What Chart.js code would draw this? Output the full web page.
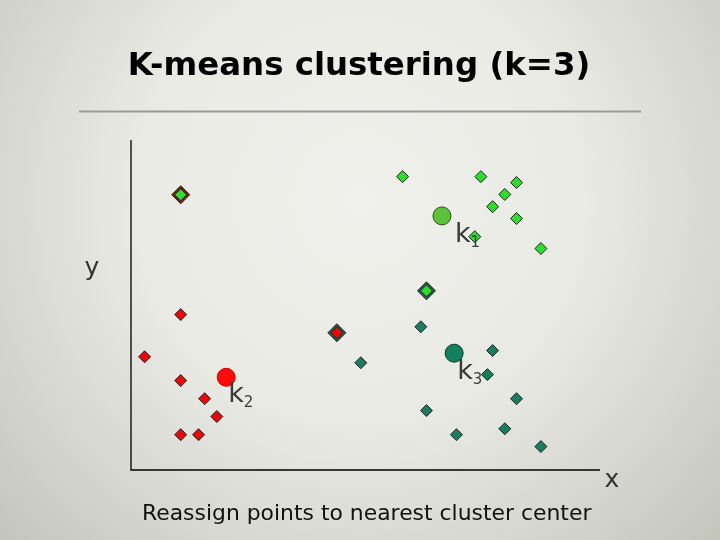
<!DOCTYPE html>
<html>
<head>
<meta charset="utf-8">
<script src="https://cdn.jsdelivr.net/npm/chart.js@4"></script>
<style>
  html, body { margin: 0; padding: 0; }
  body {
    width: 720px; height: 540px; overflow: hidden;
    background: radial-gradient(circle at 50% 37%, #f0f0ec 0px, #eaeae5 225px, #c3c5bb 500px);
  }
  #wrap { width: 720px; height: 540px; }
</style>
</head>
<body>
<div id="wrap"><canvas id="kmeans" width="720" height="540"></canvas></div>
<script>
// points in axis units (x: 0..100, y: 0..100)
const greenPoints = [
  { x: 57.9, y: 88.9 }, { x: 74.6, y: 88.9 }, { x: 82.2, y: 87.1 }, { x: 79.7, y: 83.5 },
  { x: 77.1, y: 79.8 }, { x: 82.2, y: 76.2 }, { x: 73.3, y: 70.7 }, { x: 87.4, y: 67.1 }
];
const redPoints = [
  { x: 10.6, y: 47.1 }, { x: 2.9, y: 34.3 }, { x: 10.6, y: 27.1 }, { x: 15.7, y: 21.6 },
  { x: 18.3, y: 16.2 }, { x: 10.6, y: 10.7 }, { x: 14.4, y: 10.7 }
];
const tealPoints = [
  { x: 61.8, y: 43.4 }, { x: 49.0, y: 32.5 }, { x: 77.1, y: 36.2 }, { x: 76.0, y: 28.9 },
  { x: 82.2, y: 21.6 }, { x: 63.0, y: 18.0 }, { x: 69.4, y: 10.7 }, { x: 79.7, y: 12.5 },
  { x: 87.4, y: 7.1 }
];
// points that change cluster: old colour inside, new cluster as frame
const greenToRed = [{ x: 10.6, y: 83.4 }];
const greenToTeal = [{ x: 63.0, y: 54.3 }];
const redToTeal = [{ x: 43.9, y: 41.6 }];

const centroidNames = ["1", "2", "3"];
const centroids = [{ x: 66.3, y: 77.0 }, { x: 20.3, y: 28.1 }, { x: 68.9, y: 35.4 }];

const GREEN = "#2ade2a";
const RED = "#e80808";
const TEAL = "#1a7c60";

const labelOffsets = [[13, 26], [2, 25], [3, 26]];

function diamonds(data, color, radius, border, order) {
  return {
    data: data,
    pointStyle: "rectRot",
    pointRadius: radius,
    backgroundColor: color,
    borderColor: border,
    borderWidth: 1,
    order: order,
    clip: false
  };
}

const slideText = {
  id: "slideText",
  afterDraw(chart) {
    const ctx = chart.ctx;
    const xs = chart.scales.x;
    const ys = chart.scales.y;
    ctx.save();

    // title and rule
    ctx.fillStyle = "#000";
    ctx.font = "bold 32.4px 'DejaVu Sans'";
    ctx.textAlign = "center";
    ctx.textBaseline = "alphabetic";
    ctx.fillText("K-means clustering (k=3)", 359, 75);
    ctx.strokeStyle = "#9a9a9a";
    ctx.lineWidth = 2;
    ctx.beginPath();
    ctx.moveTo(79, 111.5);
    ctx.lineTo(641, 111.5);
    ctx.stroke();

    // axes
    const x0 = xs.getPixelForValue(0), x1 = xs.getPixelForValue(100);
    const y0 = ys.getPixelForValue(0), y1 = ys.getPixelForValue(100);
    ctx.strokeStyle = "#000";
    ctx.lineWidth = 1.3;
    ctx.beginPath();
    ctx.moveTo(x0, y1);
    ctx.lineTo(x0, y0);
    ctx.lineTo(x1, y0);
    ctx.stroke();

    ctx.fillStyle = "#333";
    ctx.font = "25px 'DejaVu Sans'";
    ctx.fillText("y", x0 - 39, 275);
    ctx.fillText("x", x1 + 12, 487);

    // centroid labels
    ctx.textAlign = "left";
    ctx.fillStyle = "#3a3a3a";
    centroids.forEach((c, i) => {
      const px = xs.getPixelForValue(c.x) + labelOffsets[i][0];
      const py = ys.getPixelForValue(c.y) + labelOffsets[i][1];
      ctx.font = "27px 'DejaVu Sans'";
      ctx.fillText("k", px, py);
      const w = ctx.measureText("k").width;
      ctx.font = "15px 'DejaVu Sans'";
      ctx.fillText(centroidNames[i], px + w, py + 5);
    });

    // caption
    ctx.fillStyle = "#111";
    ctx.font = "21.9px 'DejaVu Sans'";
    ctx.fillText("Reassign points to nearest cluster center", 142, 520);
    ctx.restore();
  }
};

new Chart(document.getElementById("kmeans"), {
  type: "scatter",
  data: {
    datasets: [
      diamonds(greenToRed, "#7a1a12", 9, "#222", 6),
      diamonds(greenToTeal, "#24604a", 9, "#222", 6),
      diamonds(redToTeal, "#24604a", 9, "#222", 6),
      diamonds(greenToRed, GREEN, 6, "#222", 5),
      diamonds(greenToTeal, GREEN, 6, "#222", 5),
      diamonds(redToTeal, RED, 6, "#222", 5),
      diamonds(greenPoints, GREEN, 6, "#222", 4),
      diamonds(redPoints, RED, 6, "#222", 4),
      diamonds(tealPoints, TEAL, 6, "#222", 4),
      {
        data: centroids,
        pointStyle: "circle",
        pointRadius: 9,
        backgroundColor: ["#5cc23a", "#ff0a0a", "#138060"],
        borderColor: ["#2c4a1c", "#d00000", "#0c3a2c"],
        borderWidth: 1,
        order: 3,
        clip: false
      }
    ]
  },
  options: {
    responsive: false,
    animation: false,
    events: [],
    layout: { padding: { left: 131, right: 120, top: 140, bottom: 70 } },
    plugins: { legend: { display: false }, tooltip: { enabled: false } },
    scales: {
      x: { type: "linear", min: 0, max: 100, display: false },
      y: { type: "linear", min: 0, max: 100, display: false }
    }
  },
  plugins: [slideText]
});
</script>
</body>
</html>
